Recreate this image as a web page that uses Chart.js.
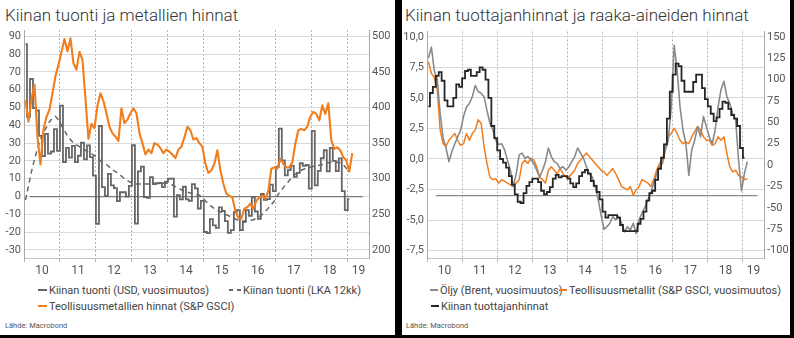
<!DOCTYPE html>
<html lang="fi">
<head>
<meta charset="utf-8">
<script src="https://cdn.jsdelivr.net/npm/chart.js@4/dist/chart.umd.min.js"></script>
<style>
  html, body { margin: 0; padding: 0; }
  body { width: 794px; height: 338px; background: #000; position: relative; overflow: hidden;
         font-family: Roboto, "Noto Sans", sans-serif; color: #3c3c3c; }
  .paneeli { position: absolute; top: 0; height: 335px; background: #fff; }
  #p1 { left: 0; width: 395px; }
  #p2 { left: 402px; width: 388px; }
  .otsikko { position: absolute; top: 5px; font-size: 17px; font-weight: 300; color: #333; white-space: nowrap; }
  .kuva { position: absolute; left: 0; top: 28px; }
  .selite { position: absolute; font-size: 11px; line-height: 14px; color: #444; white-space: nowrap; }
  .merkki { display: inline-block; height: 2px; vertical-align: middle; margin-right: 2px; position: relative; top: -1px; }
  .lahde { position: absolute; top: 321px; font-size: 7.5px; color: #555; }
</style>
</head>
<body>

<div class="paneeli" id="p1">
  <div class="otsikko" style="left:5px">Kiinan tuonti ja metallien hinnat</div>
  <canvas class="kuva" id="tuontiKuva" width="395" height="252"></canvas>
  <div class="selite" style="left:38px;top:284px"><span class="merkki" style="width:9px;background:#666"></span>Kiinan tuonti (USD, vuosimuutos)</div>
  <div class="selite" style="left:229px;top:284px"><span class="merkki" style="width:12px;background:linear-gradient(90deg,#666 0 4px,transparent 4px 8px,#666 8px 12px)"></span>Kiinan tuonti (LKA 12kk)</div>
  <div class="selite" style="left:38px;top:300px"><span class="merkki" style="width:9px;background:#f07d1e"></span>Teollisuusmetallien hinnat (S&amp;P GSCI)</div>
  <div class="lahde" style="left:5px">Lähde: Macrobond</div>
</div>

<div class="paneeli" id="p2">
  <div class="otsikko" style="left:3px">Kiinan tuottajanhinnat ja raaka-aineiden hinnat</div>
  <canvas class="kuva" id="hintaKuva" width="388" height="252"></canvas>
  <div class="selite" style="left:28px;top:284px"><span class="merkki" style="width:8px;background:#8a8a8a"></span>Öljy (Brent, vuosimuutos)</div>
  <div class="selite" style="left:157px;top:284px"><span class="merkki" style="width:8px;background:#f07d1e"></span>Teollisuusmetallit (S&amp;P GSCI, vuosimuutos)</div>
  <div class="selite" style="left:29px;top:300px"><span class="merkki" style="width:8px;background:#262626"></span>Kiinan tuottajanhinnat</div>
  <div class="lahde" style="left:4px">Lähde: Macrobond</div>
</div>

<script>
// kuukaudet 2010-01 ... 2019-02
const kuukaudet = [];
for (let v = 2010; v <= 2019; v++) {
  for (let k = 1; k <= 12; k++) {
    if (v === 2019 && k > 2) break;
    kuukaudet.push(v + '-' + String(k).padStart(2, '0'));
  }
}

const vuodet = ['10', '11', '12', '13', '14', '15', '16', '17', '18', '19'];

// Kiinan tuonti, USD, vuosimuutos % (2010-01 ... 2019-01)
const tuontiUSD = [
  85.5, 44.7, 66.0, 49.7, 48.3, 34.1, 22.7, 35.2, 24.1, 25.3, 37.9, 25.6,
  51.0, 19.4, 27.3, 21.8, 28.4, 19.3, 22.9, 30.2, 20.9, 28.7, 22.1, 11.8,
  -15.3, 39.6, 5.3, 0.3, 12.7, 6.3, 4.7, -2.6, 2.4, 2.4, 0.0, 6.0,
  28.8, -15.2, 14.1, 16.8, -0.3, -0.7, 10.9, 7.0, 7.4, 7.6, 5.3, 8.3,
  10.0, 10.1, -11.3, 0.8, -1.6, 5.5, -1.6, -2.4, 7.0, 4.6, -6.7, -2.4,
  -19.9, -20.5, -12.7, -16.2, -17.6, -6.1, -8.1, -13.8, -20.4, -18.8, -8.7, -7.6,
  -18.8, -13.8, -7.6, -10.9, -0.4, -8.4, -12.5, 1.5, -1.9, -1.4, 6.7, 3.1,
  16.7, 38.1, 20.3, 11.9, 14.8, 17.2, 11.0, 13.3, 18.7, 17.2, 17.7, 4.5,
  36.9, 6.3, 14.4, 21.5, 26.0, 14.1, 27.3, 20.0, 14.3, 21.4, 3.0, -7.6,
  -1.5
];

// Kiinan tuonti, liukuva 12 kk (2010-01 ... 2019-01)
const tuontiLKA = [
  -2, 6, 14, 21, 27, 32, 36, 39, 42, 44, 45, 43,
  40, 37, 34, 32, 30, 29, 28, 27, 26, 25, 24, 23,
  21.5, 20, 19, 18, 16.5, 15, 14, 13, 11.5, 10, 9, 8,
  7.5, 7, 7, 7, 7, 7, 7, 7.5, 7.5, 7.5, 7.5, 7.5,
  7, 6.5, 5.6, 4.6, 3.8, 3, 2.4, 2, 1.5, 1, 0.8, -0.5,
  -2.5, -4, -5.5, -6.8, -7.8, -8.5, -9.3, -10.2, -11, -11.8, -12.6, -13.4,
  -14.2, -14.4, -14, -13.5, -13, -12.2, -11.3, -10, -8.5, -6.5, -4.5, -2.5,
  0.5, 3, 5, 7, 9, 11, 12.5, 13.8, 14.8, 15.5, 16, 16.5,
  17, 17.3, 17.6, 18, 18.5, 19, 19.3, 19.3, 19.2, 18.8, 18, 15.8,
  13.7
];

// Teollisuusmetallien hinnat, S&P GSCI (2010-01 ... 2019-02)
const metallit = [
  410, 380, 412, 432, 358, 320, 369, 387, 397, 420, 444, 460,
  478, 496, 479, 497, 462, 453, 478, 467, 412, 356, 377, 371,
  402, 420, 409, 392, 373, 364, 359, 353, 399, 378, 383, 392,
  399, 392, 364, 350, 334, 341, 336, 350, 348, 343, 336, 341,
  338, 334, 329, 341, 345, 358, 373, 368, 355, 357, 350, 345,
  321, 308, 312, 321, 340, 312, 293, 279, 276, 274, 255, 245,
  244, 258, 260, 265, 258, 269, 274, 276, 272, 283, 314, 316,
  314, 328, 321, 316, 316, 323, 349, 368, 370, 368, 373, 387,
  394, 391, 382, 403, 391, 406, 354, 342, 344, 340, 330, 326,
  310, 336
];

// Kiinan tuottajahinnat, vuosimuutos % (2010-01 ... 2019-01)
const tuottajahinnat = [
  4.3, 5.4, 5.9, 6.8, 7.1, 6.4, 4.8, 4.3, 4.3, 5.0, 6.1, 5.9,
  6.6, 7.2, 7.3, 6.8, 6.8, 7.1, 7.5, 7.3, 6.5, 5.0, 2.7, 1.7,
  0.7, 0.0, -0.3, -0.7, -1.4, -2.1, -2.9, -3.5, -3.6, -2.8, -2.2, -1.9,
  -1.6, -1.6, -1.9, -2.6, -2.9, -2.7, -2.3, -1.6, -1.3, -1.5, -1.4, -1.4,
  -1.6, -2.0, -2.3, -2.0, -1.4, -1.1, -0.9, -1.2, -1.8, -2.2, -2.7, -3.3,
  -4.3, -4.8, -4.6, -4.6, -4.6, -4.8, -5.4, -5.9, -5.9, -5.9, -5.9, -5.9,
  -5.3, -4.9, -4.3, -3.4, -2.8, -2.6, -1.7, -0.8, 0.1, 1.2, 3.3, 5.5,
  6.9, 7.8, 7.6, 6.4, 5.5, 5.5, 5.5, 6.3, 6.9, 6.9, 5.8, 4.9,
  4.3, 3.7, 3.1, 3.4, 4.1, 4.7, 4.6, 4.1, 3.6, 3.3, 2.7, 0.9,
  0.1
];

// Öljy (Brent), vuosimuutos % (2010-01 ... 2019-02)
const oljy = [
  125, 138, 110, 100, 60, 32, 20, 4, 16, 25, 33, 41,
  57, 68, 72, 80, 93, 86, 84, 80, 64, 49, 41, 29,
  24, 25, 18, 6, -6, -25, -10, 12, 14, 8, 10, 6,
  2, -6, -14, -6, 4, 20, 10, 4, 2, -4, -2, -6,
  -2, 4, 10, 20, 14, 8, -2, -10, -14, -25, -40, -58,
  -75, -72, -68, -60, -64, -60, -68, -78, -72, -76, -68, -80,
  -64, -56, -49, -41, -33, -21, -10, -2, 2, 18, 29, 68,
  140, 111, 68, 41, 25, -12, 18, 29, 45, 33, 57, 45,
  33, 25, 41, 68, 88, 98, 80, 72, 60, 53, 6, -30,
  -10, 4
];

// Teollisuusmetallit (S&P GSCI), vuosimuutos % (2010-01 ... 2019-02)
const metallitMuutos = [
  121, 107, 103, 88, 41, 25, 22, 29, 33, 37, 29, 23,
  25, 37, 29, 37, 41, 53, 49, 22, 2, -14, -17, -16,
  -21, -17, -19, -21, -23, -25, -21, -17, 2, 6, 2, 8,
  6, -2, -14, -17, -21, -6, -2, -6, -10, -4, -10, -14,
  -14, -10, -6, 2, 6, 10, 14, 10, 6, 2, -2, -6,
  -8, -12, -8, -4, -10, -17, -25, -27, -29, -25, -35, -29,
  -25, -17, -19, -21, -25, -17, -6, 2, 6, 22, 33, 37,
  43, 37, 29, 25, 27, 25, 33, 39, 45, 41, 33, 29,
  29, 23, 25, 33, 29, 33, 14, -2, -8, -6, -12, -14,
  -17, -16
];

// asteikot
const tuontiAsteikko = [-30, -20, -10, 0, 10, 20, 30, 40, 50, 60, 70, 80, 90];
const metalliAsteikko = [200, 250, 300, 350, 400, 450, 500];
const tuottajaAsteikko = [-7.5, -5, -2.5, 0, 2.5, 5, 7.5, 10];
const muutosAsteikko = [-100, -75, -50, -25, 0, 25, 50, 75, 100, 125, 150];

// vaakaviivat
const nollaviiva = ['2010-03', '2019-06'];
const nollataso = 0;
const vertailuviiva = ['2010-04', '2019-06'];
const vertailutaso = -3;

const ORANSSI = '#f07d1e';

function kuukausiX(kk, keskelle) {
  const osat = kk.split('-');
  return Number(osat[0]) + (Number(osat[1]) - (keskelle ? 0.5 : 1)) / 12;
}

function pisteet(arvot) {
  return arvot.map((y, i) => ({ x: kuukausiX(kuukaudet[i], true), y: y }));
}

function viiva(pari, taso) {
  return pari.map(kk => ({ x: kuukausiX(kk, false), y: taso }));
}

function aikaAkseli(maksimi) {
  const vuosiviiva = c =>
    (c.tick && Number.isInteger(c.tick.value)) ? '#b4b4b4' : 'rgba(0,0,0,0)';
  return {
    type: 'linear',
    min: 2010,
    max: maksimi,
    afterBuildTicks: a => {
      const t = [];
      vuodet.forEach((nimi, i) => {
        t.push({ value: 2010 + i });
        t.push({ value: 2010 + i + (i === vuodet.length - 1 ? 0.3 : 0.5) });
      });
      a.ticks = t;
    },
    afterFit: a => { a.height = 22; a.paddingLeft = 0; a.paddingRight = 0; },
    ticks: {
      autoSkip: false,
      maxRotation: 0,
      padding: 2,
      color: '#555',
      font: { size: 12 },
      callback: v => Number.isInteger(v) ? '' : vuodet[Math.floor(v) - 2010]
    },
    grid: { color: vuosiviiva, tickColor: vuosiviiva, tickLength: 4 },
    border: { color: '#c4c4c4', dash: [2, 2] }
  };
}

function pystyAkseli(paikka, asteikko, min, max, leveys, ruudukko, muotoilu) {
  return {
    position: paikka,
    min: min,
    max: max,
    afterBuildTicks: a => { a.ticks = asteikko.map(v => ({ value: v })); },
    afterFit: a => { a.width = leveys; a.paddingTop = 0; a.paddingBottom = 0; },
    ticks: { color: '#555', font: { size: 11 }, padding: 3, callback: muotoilu },
    grid: { drawOnChartArea: ruudukko, drawTicks: false, color: '#d9d9d9' },
    border: { color: '#a8a8a8' }
  };
}

const yhteiset = {
  responsive: false,
  animation: false,
  elements: { point: { radius: 0 }, line: { tension: 0, borderJoinStyle: 'round' } },
  plugins: { legend: { display: false }, tooltip: { enabled: false } }
};

Chart.defaults.font.family = 'Roboto, "Noto Sans", sans-serif';

new Chart(document.getElementById('tuontiKuva'), {
  type: 'line',
  data: {
    datasets: [
      {
        label: 'Teollisuusmetallien hinnat (S&P GSCI)',
        data: pisteet(metallit),
        yAxisID: 'y2',
        borderColor: ORANSSI,
        borderWidth: 2.1,
        order: 1
      },
      {
        label: 'Kiinan tuonti (USD, vuosimuutos)',
        data: pisteet(tuontiUSD),
        yAxisID: 'y',
        stepped: 'middle',
        borderColor: '#666',
        borderWidth: 1.8,
        borderJoinStyle: 'miter',
        order: 2
      },
      {
        label: 'Kiinan tuonti (LKA 12kk)',
        data: pisteet(tuontiLKA),
        yAxisID: 'y',
        borderColor: '#666',
        borderWidth: 1.5,
        borderDash: [5, 4],
        order: 3
      },
      {
        label: 'nolla',
        data: viiva(nollaviiva, nollataso),
        yAxisID: 'y',
        borderColor: '#7a7a7a',
        borderWidth: 1.2,
        order: 4
      }
    ]
  },
  options: Object.assign({}, yhteiset, {
    layout: { padding: { top: 2 } },
    scales: {
      x: aikaAkseli(2019.59),
      y: pystyAkseli('left', tuontiAsteikko, -34.5, 93.5, 24, true, v => String(v)),
      y2: pystyAkseli('right', metalliAsteikko, 188.75, 508.75, 26, false, v => String(v))
    }
  })
});

new Chart(document.getElementById('hintaKuva'), {
  type: 'line',
  data: {
    datasets: [
      {
        label: 'Kiinan tuottajanhinnat',
        data: pisteet(tuottajahinnat),
        yAxisID: 'y',
        stepped: 'middle',
        borderColor: '#262626',
        borderWidth: 1.8,
        borderJoinStyle: 'miter',
        order: 1
      },
      {
        label: 'Öljy (Brent, vuosimuutos)',
        data: pisteet(oljy),
        yAxisID: 'y2',
        borderColor: '#8a8a8a',
        borderWidth: 1.6,
        order: 2
      },
      {
        label: 'Teollisuusmetallit (S&P GSCI, vuosimuutos)',
        data: pisteet(metallitMuutos),
        yAxisID: 'y2',
        borderColor: ORANSSI,
        borderWidth: 1.5,
        order: 3
      },
      {
        label: 'viiva',
        data: viiva(vertailuviiva, vertailutaso),
        yAxisID: 'y',
        borderColor: '#8c8c8c',
        borderWidth: 1.2,
        order: 4
      }
    ]
  },
  options: Object.assign({}, yhteiset, {
    layout: { padding: { top: 3.5 } },
    scales: {
      x: aikaAkseli(2019.6),
      y: pystyAkseli('left', tuottajaAsteikko, -8.1, 10.43, 25, true,
        v => v.toFixed(1).replace('.', ',')),
      y2: pystyAkseli('right', muutosAsteikko, -108.57, 156.14, 26, false, v => String(v))
    }
  })
});
</script>
</body>
</html>
